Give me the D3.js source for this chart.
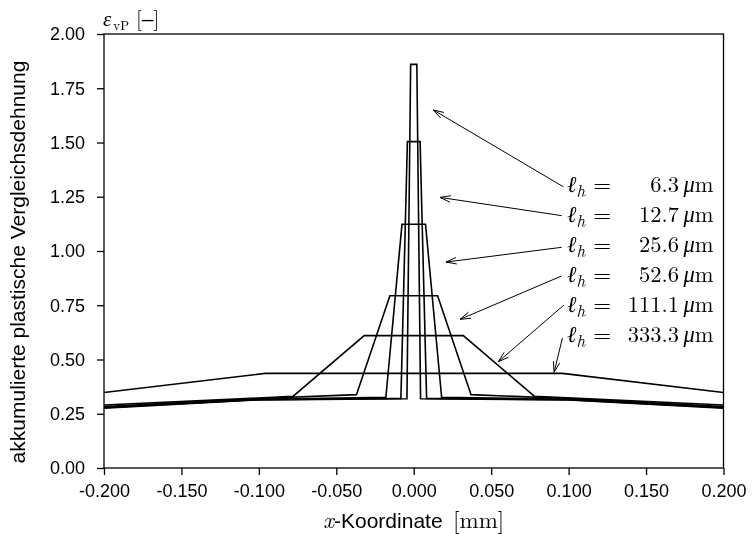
<!DOCTYPE html>
<html><head><meta charset="utf-8">
<script src="https://cdn.jsdelivr.net/npm/d3@7"></script>
<style>body{margin:0;background:#fff}svg{display:block;will-change:transform;-webkit-font-smoothing:antialiased}</style>
</head><body><svg id="c" width="752" height="534"></svg>
<script>
// ---- data ----
const seriesNames = ["6.3", "12.7", "25.6", "52.6", "111.1", "333.3"];
const s1x = [-0.2, -0.1, -0.0044, -0.002, 0.002, 0.0044, 0.1, 0.2];
const s1y = [0.276, 0.314, 0.319, 1.860, 1.860, 0.319, 0.314, 0.276];
const s2x = [-0.2, -0.1, -0.0083, -0.0041, 0.0041, 0.0083, 0.1, 0.2];
const s2y = [0.278, 0.315, 0.321, 1.504, 1.504, 0.321, 0.315, 0.278];
const s3x = [-0.2, -0.1, -0.018, -0.0076, 0.0076, 0.018, 0.1, 0.2];
const s3y = [0.280, 0.317, 0.326, 1.123, 1.123, 0.326, 0.317, 0.280];
const s4x = [-0.2, -0.1, -0.037, -0.0154, 0.0154, 0.037, 0.1, 0.2];
const s4y = [0.283, 0.320, 0.338, 0.794, 0.794, 0.338, 0.320, 0.283];
const s5x = [-0.2, -0.078, -0.032, 0.032, 0.078, 0.2];
const s5y = [0.290, 0.330, 0.610, 0.610, 0.330, 0.290];
const s6x = [-0.2, -0.096, 0.096, 0.2];
const s6y = [0.348, 0.436, 0.436, 0.348];
const xTicks = [-0.2, -0.15, -0.1, -0.05, 0, 0.05, 0.1, 0.15, 0.2];
const yTicks = [0, 0.25, 0.5, 0.75, 1.0, 1.25, 1.5, 1.75, 2.0];
// annotation arrows: tail (near label) -> tip (near curve), data coords
const arrowTail = [[0.0966, 1.296], [0.0955, 1.163], [0.0955, 1.017], [0.0955, 0.885], [0.0970, 0.751], [0.0960, 0.599]];
const arrowTip  = [[0.0126, 1.650], [0.0170, 1.247], [0.0208, 0.949], [0.0299, 0.685], [0.0546, 0.490], [0.0906, 0.441]];
const labelY = [1.272, 1.134, 0.995, 0.857, 0.719, 0.581];

const series = [[s1x,s1y],[s2x,s2y],[s3x,s3y],[s4x,s4y],[s5x,s5y],[s6x,s6y]]
  .map(([xs,ys]) => xs.map((x,i)=>({x, y: ys[i]})));

// ---- layout ----
const L = 104, R = 723.5, T = 34, B = 468;
const x = d3.scaleLinear().domain([-0.2, 0.2]).range([L, R]);
const y = d3.scaleLinear().domain([0, 2]).range([B, T]);
const svg = d3.select("#c");
const sans = "'Liberation Sans', Arial, Helvetica, sans-serif";
const serif = "'Latin Modern Roman','CMU Serif','Liberation Serif','DejaVu Serif',serif";

svg.append("defs").append("clipPath").attr("id","clip")
  .append("rect").attr("x", L).attr("y", T).attr("width", R-L).attr("height", B-T);

// curves
const line = d3.line().x(d=>x(d.x)).y(d=>y(d.y));
svg.append("g").attr("clip-path","url(#clip)")
  .selectAll("path").data(series).join("path")
  .attr("d", line).attr("fill","none").attr("stroke","#000")
  .attr("stroke-width",1.6).attr("stroke-linejoin","miter");

// frame
svg.append("rect").attr("x",L).attr("y",T).attr("width",R-L).attr("height",B-T)
  .attr("fill","none").attr("stroke","#000").attr("stroke-width",1.3);

// axes
const xAxis = d3.axisBottom(x).tickValues(xTicks).tickSize(7).tickPadding(5)
  .tickFormat(d => (Math.abs(d) < 1e-9 ? 0 : d).toFixed(3));
const gx = svg.append("g").attr("transform",`translate(0,${B})`).call(xAxis);
const yAxis = d3.axisLeft(y).tickValues(yTicks).tickSize(7).tickPadding(12)
  .tickFormat(d => d.toFixed(2));
const gy = svg.append("g").attr("transform",`translate(${L},0)`).call(yAxis);
[gx, gy].forEach(g => {
  g.select(".domain").remove();
  g.selectAll("line").attr("stroke","#000").attr("stroke-width",1.3);
  g.selectAll("text").attr("font-family",sans).attr("font-size",18).attr("fill","#000");
});
gx.selectAll("text").attr("dy","0.95em");

// y title
svg.append("text").attr("transform","translate(25,262) rotate(-90)")
  .attr("text-anchor","middle").attr("font-family",sans).attr("font-size",21).attr("fill","#000")
  .text("akkumulierte plastische Vergleichsdehnung");

// x title
const xt = svg.append("text").attr("x", x(0)).attr("y", 528).attr("text-anchor","middle")
  .attr("font-size",21).attr("font-family",sans).attr("fill","#000");
xt.append("tspan").attr("font-family",serif).attr("font-style","italic").attr("font-size",23).text("x");
xt.append("tspan").text("-Koordinate\u2002");
xt.append("tspan").attr("font-family",serif).attr("font-size",23).text("[mm]");

// top-left unit label
const ut = svg.append("text").attr("x", 103).attr("y", 26).attr("font-family",serif).attr("font-size",21).attr("fill","#000");
ut.append("tspan").attr("font-style","italic").text("ε");
ut.append("tspan").attr("font-size",13).attr("dy",4).attr("dx",2).text("vP");
ut.append("tspan").attr("dy",-4).attr("dx",7).text("[");
ut.append("tspan").attr("font-family",sans).text("\u2013");
ut.append("tspan").text("]");

// arrows
const ag = svg.append("g").attr("stroke","#000").attr("stroke-width",1).attr("fill","none");
arrowTail.forEach((t,i) => {
  const [x1,y1] = [x(t[0]), y(t[1])];
  const [x2,y2] = [x(arrowTip[i][0]), y(arrowTip[i][1])];
  ag.append("line").attr("x1",x1).attr("y1",y1).attr("x2",x2).attr("y2",y2);
  const ang = Math.atan2(y1-y2, x1-x2), len = 11, spread = 0.3;
  const p = a => [x2 + len*Math.cos(a), y2 + len*Math.sin(a)];
  const a1 = p(ang+spread), a2 = p(ang-spread);
  ag.append("path").attr("d", `M${a1[0]},${a1[1]}L${x2},${y2}L${a2[0]},${a2[1]}`);
});

// labels
seriesNames.forEach((v,i) => {
  const yy = y(labelY[i]);
  const t1 = svg.append("text").attr("x", 567).attr("y", yy).attr("font-family",serif).attr("font-size",23).attr("fill","#000");
  t1.append("tspan").attr("font-style","italic").text("ℓ");
  t1.append("tspan").attr("font-style","italic").attr("font-size",17).attr("dy",5).text("h");
  t1.append("tspan").attr("dy",-5).attr("dx",8).text("=");
  const t2 = svg.append("text").attr("x", 713.5).attr("y", yy).attr("text-anchor","end")
    .attr("font-family",serif).attr("font-size",22.5).attr("fill","#000");
  t2.append("tspan").text(v + "\u2009");
  t2.append("tspan").attr("font-style","italic").text("μ");
  t2.append("tspan").text("m");
});
</script></body></html>
